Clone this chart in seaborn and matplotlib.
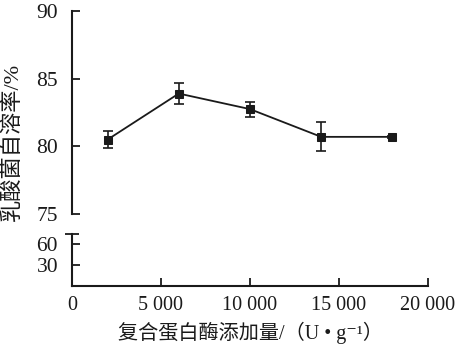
import numpy as np
import matplotlib
matplotlib.use("Agg")
import matplotlib.pyplot as plt
import seaborn as sns
import pandas as pd

# data
dose = [2000, 6000, 10000, 14000, 18000]
autolysis = [80.5, 83.9, 82.75, 80.7, 80.7]
err = [0.6, 0.75, 0.55, 1.08, 0.1]
x_ticks = [0, 5000, 10000, 15000, 20000]
x_ticklabels = ["0", "5 000", "10 000", "15 000", "20 000"]
upper_yticks = [75, 80, 85, 90]
lower_yticks = [30, 60]

sns.set_style("ticks")
plt.rcParams['font.family'] = ['Liberation Serif', 'DejaVu Serif', 'Noto Sans CJK SC']

ink = '#1a1a1a'
df = pd.DataFrame({"dose": dose, "rate": autolysis, "err": err})

fig = plt.figure(figsize=(4.56, 3.54), dpi=100)
ax = fig.add_axes([72/456, 1-214/354, (428-72)/456, (214-11)/354])
ax2 = fig.add_axes([72/456, 1-286/354, (428-72)/456, (286-234)/354])

# upper part (75-90)
ax.errorbar(df["dose"], df["rate"], yerr=df["err"], fmt='none', ecolor=ink,
            elinewidth=1.2, capsize=3.5, capthick=1.2, zorder=2)
sns.lineplot(data=df, x="dose", y="rate", ax=ax, color=ink, linewidth=1.3,
             marker='s', markersize=6, markeredgecolor=ink, zorder=3)
ax.set_xlim(0, 20000)
ax.set_ylim(75, 90)
ax.set_yticks(upper_yticks)
ax.set_xticks([])
ax.set_xlabel("")
ax.set_ylabel("")
for s in ['top', 'right', 'bottom']:
    ax.spines[s].set_visible(False)
ax.spines['left'].set_linewidth(1.5)
ax.spines['left'].set_color(ink)
ax.tick_params(axis='y', direction='in', length=6, width=1.3, colors=ink,
               labelsize=15.5, pad=10)
ax.set_yticks([75], minor=True)
ax.tick_params(axis='y', which='minor', direction='out', length=5, width=1.3, colors=ink)

# lower part (0-75)
ax2.set_xlim(0, 20000)
ax2.set_ylim(0, 75)
ax2.set_yticks(lower_yticks)
ax2.set_yticks([75], minor=True)
ax2.set_xticks(x_ticks)
ax2.set_xticklabels(x_ticklabels)
for s in ['top', 'right']:
    ax2.spines[s].set_visible(False)
for s in ['left', 'bottom']:
    ax2.spines[s].set_linewidth(1.5)
    ax2.spines[s].set_color(ink)
ax2.tick_params(axis='both', direction='in', length=6, width=1.3, colors=ink)
ax2.tick_params(axis='y', pad=10, labelsize=15.5)
ax2.tick_params(axis='x', pad=7, labelsize=14.5)
ax2.tick_params(axis='y', which='minor', direction='inout', length=10, width=1.3, colors=ink)

fig.text(250/456, 1-333/354, '复合蛋白酶添加量/（U • g⁻¹）', ha='center', va='center',
         fontsize=14.5, color=ink)
fig.text(12/456, 1-142/354, '乳酸菌自溶率/%', ha='center', va='center',
         rotation=90, fontsize=16, color=ink)

fig.savefig("out.png", dpi=100)
